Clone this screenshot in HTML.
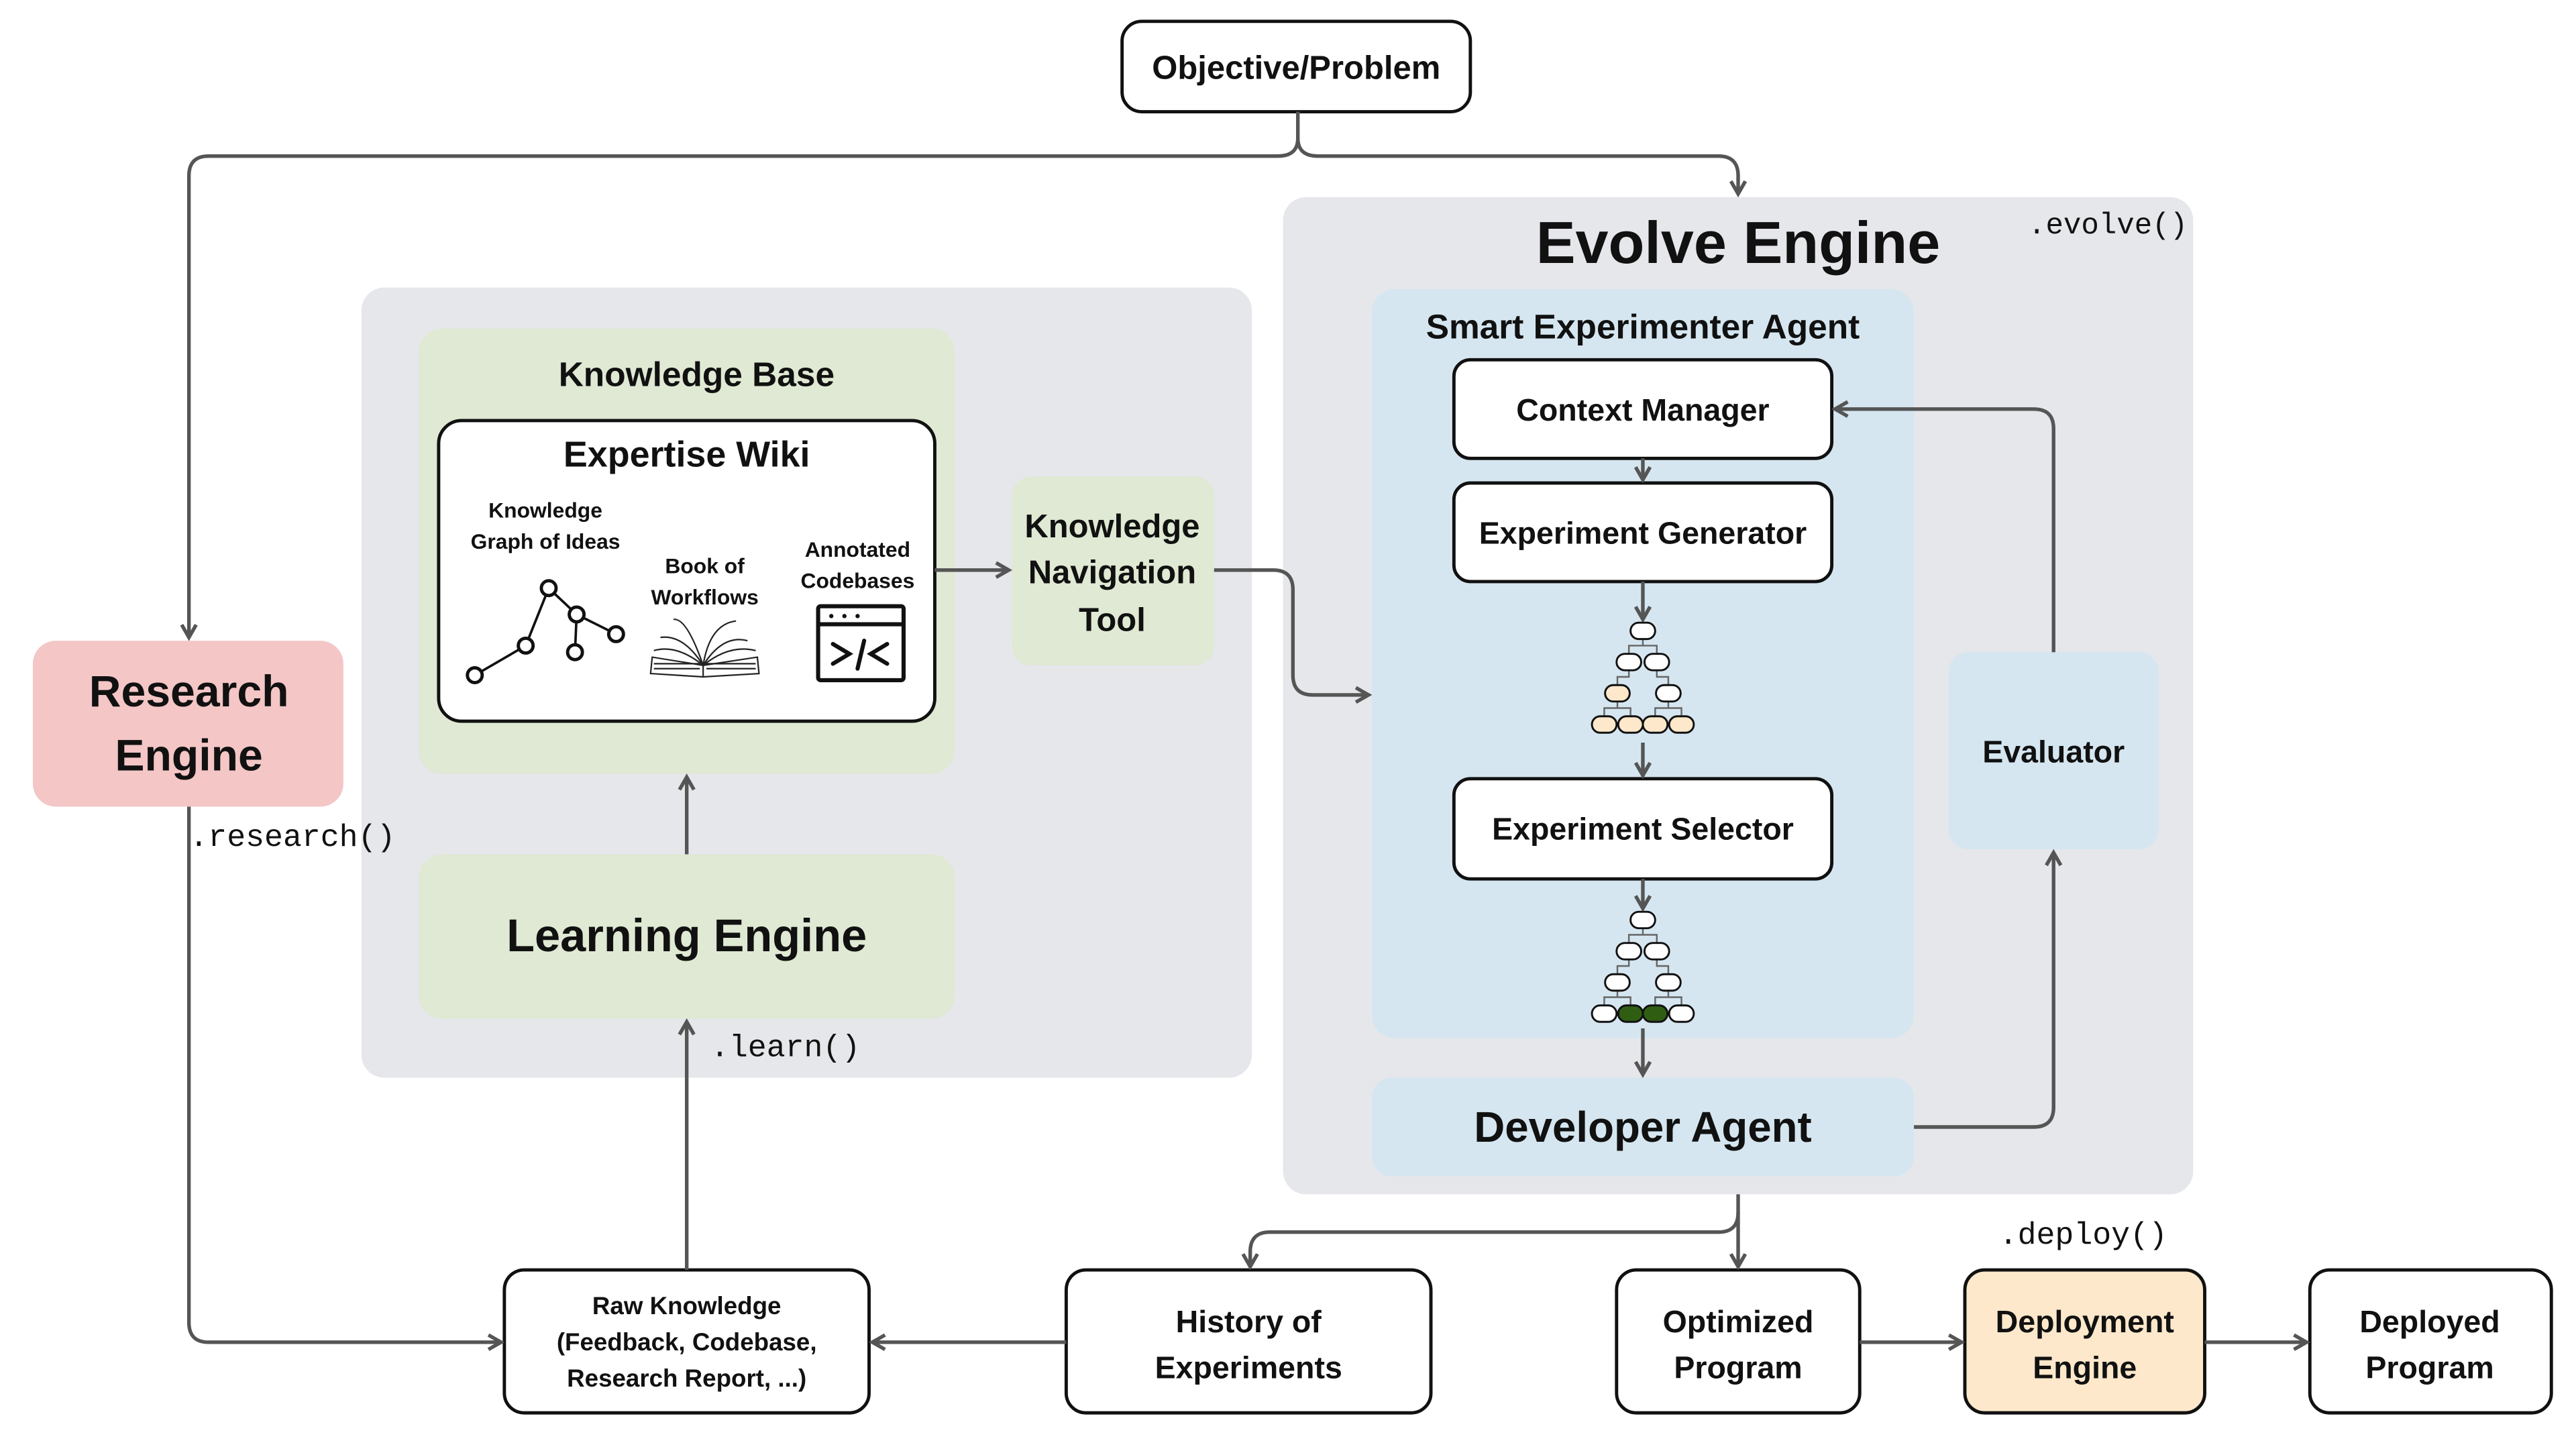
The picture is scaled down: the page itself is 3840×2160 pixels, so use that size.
<!DOCTYPE html>
<html><head><meta charset="utf-8"><style>
html,body{margin:0;padding:0;background:#fff}
svg{display:block}
text{font-family:"Liberation Sans",sans-serif;font-weight:bold;fill:#111;text-anchor:middle}
.m{font-family:"Liberation Mono",monospace;font-weight:normal}
.ln{fill:none;stroke:#555;stroke-width:2.2}
.t{fill:none;stroke:#666;stroke-width:1}
</style></head><body>
<svg width="3840" height="2160" viewBox="0 0 1568 882" xmlns="http://www.w3.org/2000/svg">
<defs>
<marker id="a" viewBox="0 0 10 10" refX="8" refY="5" markerWidth="5" markerHeight="5" orient="auto-start-reverse">
<path d="M1,1 L8,5 L1,9" fill="none" stroke="#555" stroke-width="2"/></marker>
</defs>
<rect width="1568" height="882" fill="#fff"/>
<!-- panels -->
<rect x="781" y="120" width="554" height="607" rx="14" fill="#e6e7eb"/>
<rect x="220" y="175" width="542" height="481" rx="14" fill="#e6e7eb"/>
<rect x="255" y="200" width="326" height="271" rx="14" fill="#dfe9d3"/>
<rect x="616" y="290" width="123" height="115" rx="12" fill="#dfe9d3"/>
<rect x="255" y="520" width="326" height="100" rx="14" fill="#dfe9d3"/>
<rect x="20" y="390" width="189" height="101" rx="14" fill="#f4c6c6"/>
<rect x="835" y="176" width="330" height="456" rx="14" fill="#d5e6f0"/>
<rect x="1186" y="397" width="128" height="120" rx="12" fill="#d5e6f0"/>
<rect x="835" y="656" width="330" height="60" rx="12" fill="#d5e6f0"/>
<!-- white boxes -->
<g fill="#fff" stroke="#111" stroke-width="2">
<rect x="683" y="13" width="212" height="55" rx="12"/>
<rect x="267" y="256" width="302" height="183" rx="14"/>
<rect x="885" y="219" width="230" height="60" rx="10"/>
<rect x="885" y="294" width="230" height="60" rx="10"/>
<rect x="885" y="474" width="230" height="61" rx="10"/>
<rect x="307" y="773" width="222" height="87" rx="12"/>
<rect x="649" y="773" width="222" height="87" rx="12"/>
<rect x="984" y="773" width="148" height="87" rx="12"/>
<rect x="1196" y="773" width="146" height="87" rx="12" fill="#fde8cb"/>
<rect x="1406" y="773" width="147" height="87" rx="12"/>
</g>
<!-- connectors -->
<g class="ln">
<path d="M790,68 V84 Q790,95 778,95 H127 Q115,95 115,107 V388" marker-end="url(#a)"/>
<path d="M790,84 Q790,95 802,95 H1046 Q1058,95 1058,107 V118" marker-end="url(#a)"/>
<path d="M115,491 V805 Q115,817 127,817 H305" marker-end="url(#a)"/>
<path d="M649,817 H531" marker-end="url(#a)"/>
<path d="M1132,817 H1194" marker-end="url(#a)"/>
<path d="M1342,817 H1404" marker-end="url(#a)"/>
<path d="M418,773 V622" marker-end="url(#a)"/>
<path d="M418,520 V473" marker-end="url(#a)"/>
<path d="M569,347 H614" marker-end="url(#a)"/>
<path d="M739,347 H775 Q787,347 787,359 V411 Q787,423 799,423 H833" marker-end="url(#a)"/>
<path d="M1000,279 V292" marker-end="url(#a)"/>
<path d="M1000,354 V377" marker-end="url(#a)"/>
<path d="M1000,452 V472" marker-end="url(#a)"/>
<path d="M1000,535 V553" marker-end="url(#a)"/>
<path d="M1000,626 V654" marker-end="url(#a)"/>
<path d="M1165,686 H1238 Q1250,686 1250,674 V519" marker-end="url(#a)"/>
<path d="M1250,397 V261 Q1250,249 1238,249 H1117" marker-end="url(#a)"/>
<path d="M1058,727 V738 Q1058,750 1046,750 H773 Q761,750 761,762 V771" marker-end="url(#a)"/>
<path d="M1058,738 V771" marker-end="url(#a)"/>
</g>
<!-- trees -->
<g transform="translate(1000,379)">
<path class="t" d="M0,10 v4 h-8.5 v5 M0,14 h8.5 v5 M-8.5,29 v4 h-7 v5 M8.5,29 v4 h7 v5 M-15.5,48 v4 h-8 v5 M-15.5,52 h8 v5 M15.5,48 v4 h-8 v5 M15.5,52 h8 v5"/>
<g stroke="#111" stroke-width="1.2">
<rect x="-7.5" y="0" width="15" height="10" rx="5" fill="#fff"/>
<rect x="-16" y="19" width="15" height="10" rx="5" fill="#fff"/>
<rect x="1" y="19" width="15" height="10" rx="5" fill="#fff"/>
<rect x="-23" y="38" width="15" height="10" rx="5" fill="#fde8cb"/>
<rect x="8" y="38" width="15" height="10" rx="5" fill="#fff"/>
<rect x="-31" y="57" width="15" height="10" rx="5" fill="#fde8cb"/>
<rect x="-15" y="57" width="15" height="10" rx="5" fill="#fde8cb"/>
<rect x="0" y="57" width="15" height="10" rx="5" fill="#fde8cb"/>
<rect x="16" y="57" width="15" height="10" rx="5" fill="#fde8cb"/>
</g></g>
<g transform="translate(1000,555)">
<path class="t" d="M0,10 v4 h-8.5 v5 M0,14 h8.5 v5 M-8.5,29 v4 h-7 v5 M8.5,29 v4 h7 v5 M-15.5,48 v4 h-8 v5 M-15.5,52 h8 v5 M15.5,48 v4 h-8 v5 M15.5,52 h8 v5"/>
<g stroke="#111" stroke-width="1.2">
<rect x="-7.5" y="0" width="15" height="10" rx="5" fill="#fff"/>
<rect x="-16" y="19" width="15" height="10" rx="5" fill="#fff"/>
<rect x="1" y="19" width="15" height="10" rx="5" fill="#fff"/>
<rect x="-23" y="38" width="15" height="10" rx="5" fill="#fff"/>
<rect x="8" y="38" width="15" height="10" rx="5" fill="#fff"/>
<rect x="-31" y="57" width="15" height="10" rx="5" fill="#fff"/>
<rect x="-15" y="57" width="15" height="10" rx="5" fill="#2f5e12"/>
<rect x="0" y="57" width="15" height="10" rx="5" fill="#2f5e12"/>
<rect x="16" y="57" width="15" height="10" rx="5" fill="#fff"/>
</g></g>
<!-- graph icon -->
<g stroke="#111" stroke-width="2" fill="#fff">
<path d="M289,411 L320,393 L334,358 L351,374 L375,386 M351,374 L350,397" fill="none" stroke-width="1.5"/>
<circle cx="289" cy="411" r="4.5"/><circle cx="320" cy="393" r="4.5"/><circle cx="334" cy="358" r="4.5"/>
<circle cx="351" cy="374" r="4.5"/><circle cx="375" cy="386" r="4.5"/><circle cx="350" cy="397" r="4.5"/>
</g>
<!-- book icon -->
<g fill="none" stroke="#222" stroke-width="0.9">
<path d="M396,410 L428,412 L462,410 L461,400 L428,405 L397,400 Z"/>
<path d="M428,412 L428,405 M398,396 Q412,392 428,405 Q444,392 460,396"/>
<path d="M402,388 Q416,386 428,405 Q440,386 455,390"/>
<path d="M410,377 Q418,376 428,405 Q432,380 448,378"/>
<path d="M398,404 H426 M430,404 H460 M398,407 H426 M430,407 H460"/>
</g>
<!-- code icon -->
<g stroke="#111" fill="none" stroke-width="2.5">
<rect x="498" y="369" width="52" height="45" rx="1.5"/>
<path d="M498,380 H550"/>
<path d="M507,392 L517,398 L507,404 M540,392 L530,398 L540,404 M526,390 L522,407" stroke-linecap="round"/>
</g>
<g fill="#111"><circle cx="506" cy="375" r="1.3"/><circle cx="514" cy="375" r="1.3"/><circle cx="522" cy="375" r="1.3"/></g>
<!-- text -->
<text x="789" y="48" font-size="20">Objective/Problem</text>
<text x="1058" y="160" font-size="36">Evolve Engine</text>
<text class="m" x="1283" y="142" font-size="18">.evolve()</text>
<text x="1000" y="206" font-size="21">Smart Experimenter Agent</text>
<text x="1000" y="256" font-size="19">Context Manager</text>
<text x="1000" y="331" font-size="19">Experiment Generator</text>
<text x="1000" y="511" font-size="19">Experiment Selector</text>
<text x="1250" y="464" font-size="19">Evaluator</text>
<text x="1000" y="695" font-size="26">Developer Agent</text>
<text x="424" y="235" font-size="21">Knowledge Base</text>
<text x="418" y="284" font-size="22">Expertise Wiki</text>
<text x="332" y="315" font-size="13">Knowledge</text>
<text x="332" y="334" font-size="13">Graph of Ideas</text>
<text x="429" y="349" font-size="13">Book of</text>
<text x="429" y="368" font-size="13">Workflows</text>
<text x="522" y="339" font-size="13">Annotated</text>
<text x="522" y="358" font-size="13">Codebases</text>
<text x="677" y="327" font-size="20">Knowledge</text>
<text x="677" y="355" font-size="20">Navigation</text>
<text x="677" y="384" font-size="20">Tool</text>
<text x="418" y="579" font-size="28">Learning Engine</text>
<text class="m" x="478" y="643" font-size="19">.learn()</text>
<text x="115" y="430" font-size="27">Research</text>
<text x="115" y="469" font-size="27">Engine</text>
<text class="m" x="178" y="515" font-size="19">.research()</text>
<text class="m" x="1268" y="757" font-size="19">.deploy()</text>
<text x="418" y="800" font-size="15">Raw Knowledge</text>
<text x="418" y="822" font-size="15">(Feedback, Codebase,</text>
<text x="418" y="844" font-size="15">Research Report, ...)</text>
<text x="760" y="811" font-size="19">History of</text>
<text x="760" y="839" font-size="19">Experiments</text>
<text x="1058" y="811" font-size="19">Optimized</text>
<text x="1058" y="839" font-size="19">Program</text>
<text x="1269" y="811" font-size="19">Deployment</text>
<text x="1269" y="839" font-size="19">Engine</text>
<text x="1479" y="811" font-size="19">Deployed</text>
<text x="1479" y="839" font-size="19">Program</text>
</svg>
</body></html>
